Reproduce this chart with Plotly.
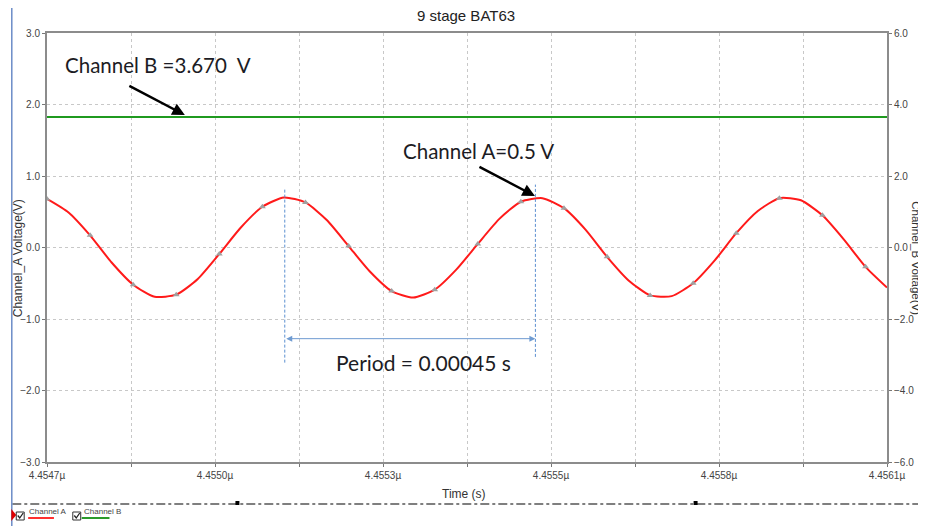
import plotly.graph_objects as go

# ---- data ----
time_us = [4.4547000, 4.4547359, 4.4547718, 4.4548077, 4.4548436, 4.4548795, 4.4549154, 4.4549513,
           4.4549872, 4.4550231, 4.4550590, 4.4550949, 4.4551308, 4.4551667, 4.4552026, 4.4552385,
           4.4552744, 4.4553103, 4.4553462, 4.4553821, 4.4554180, 4.4554539, 4.4554898, 4.4555257,
           4.4555616, 4.4555975, 4.4556334, 4.4556693, 4.4557052, 4.4557411, 4.4557770, 4.4558129,
           4.4558488, 4.4558847, 4.4559206, 4.4559565, 4.4559924, 4.4560283, 4.4560642, 4.4561000]
channel_a = [0.68, 0.49, 0.17, -0.21, -0.52, -0.69, -0.66, -0.44,
             -0.09, 0.28, 0.57, 0.70, 0.63, 0.38, 0.02, -0.34,
             -0.61, -0.70, -0.59, -0.31, 0.05, 0.40, 0.64, 0.69,
             0.55, 0.25, -0.13, -0.46, -0.67, -0.68, -0.50, -0.18,
             0.20, 0.51, 0.69, 0.66, 0.45, 0.11, -0.27, -0.56]
channel_b_time = [4.4547, 4.4561]
channel_b = [3.65, 3.65]

x_tickvals = [4.4547, 4.45484, 4.45498, 4.45512, 4.45526, 4.4554, 4.45554, 4.45568, 4.45582, 4.45596, 4.4561]
x_ticktext = ["4.4547µ", "", "4.4550µ", "", "4.4553µ", "", "4.4555µ", "", "4.4558µ", "", "4.4561µ"]
y1_ticks = [-3, -2, -1, 0, 1, 2, 3]
y2_ticks = [-6, -4, -2, 0, 2, 4, 6]

# annotation anchors (data coords)
period_left = 4.4550963
period_right = 4.4555140

# ---- layout geometry (page pixels; page body has an 8px margin) ----
OFF = 8
PW, PH = 926, 526
L, R, T, B = 45, 892, 33, 462
def px(x):
    return (x - L) / (R - L)
def py(y):
    return (B - y) / (B - T)

fig = go.Figure()
fig.add_trace(go.Scatter(x=time_us, y=channel_a, mode="lines", name="Channel A",
                         line=dict(color="#ff1a1a", width=2, shape="spline", smoothing=0.6)))
fig.add_trace(go.Scatter(x=time_us[::2], y=channel_a[::2], mode="markers", showlegend=False,
                         marker=dict(symbol="triangle-up", size=6, color="#a0a0a0")))
fig.add_trace(go.Scatter(x=channel_b_time, y=channel_b, mode="lines", name="Channel B", yaxis="y2",
                         line=dict(color="#1f9a1f", width=2)))

tickfont = dict(family="Liberation Sans, Arial", size=10, color="#444")
fig.update_layout(
    width=PW - OFF, height=PH - OFF,
    margin=dict(l=L - OFF, r=PW - R, t=T - OFF, b=PH - B),
    paper_bgcolor="white", plot_bgcolor="white",
    showlegend=False,
    xaxis=dict(range=[4.4547, 4.4561], tickvals=x_tickvals, ticktext=x_ticktext,
               showgrid=True, gridcolor="#c8c8c8", griddash="dot", gridwidth=1,
               showline=True, linecolor="#8c8c8c", linewidth=2, mirror=True,
               ticks="outside", ticklen=3, tickcolor="#777", tickfont=tickfont, zeroline=False),
    yaxis=dict(range=[-3, 3], tickvals=y1_ticks, tickformat=".1f",
               showgrid=True, gridcolor="#c8c8c8", griddash="dot", gridwidth=1,
               showline=True, linecolor="#8c8c8c", linewidth=2,
               ticks="outside", ticklen=3, tickcolor="#777", tickfont=tickfont, zeroline=False),
    yaxis2=dict(range=[-6, 6], tickvals=y2_ticks, tickformat=".1f", overlaying="y", side="right",
                showgrid=False, showline=True, linecolor="#8c8c8c", linewidth=2,
                ticks="outside", ticklen=3, tickcolor="#777", tickfont=tickfont, zeroline=False),
)

ann = []
def label(text, x, y, font, angle=0, xanchor="center"):
    ann.append(dict(text=text, x=px(x), y=py(y), xref="paper", yref="paper", showarrow=False,
                    xanchor=xanchor, yanchor="middle", textangle=angle, font=font))

txt = dict(family="Liberation Sans, Arial", color="#333")
label("9 stage BAT63", 467, 16, dict(size=15, family="Liberation Sans, Arial", color="#222"))
label("Time (s)", 465, 494, dict(size=12, **txt))
label("Channel_A Voltage(V)", 16, 258, dict(size=12, **txt), angle=-90)
label("Channel_B Voltage(V)", 921, 258, dict(size=11.5, **txt), angle=90)

callout = dict(family="Lato, Open Sans, sans-serif", size=20.5, color="#1c1c24")
label("Channel B =3.670  V", 157, 65, callout)
label("Channel A=0.5 V", 480, 151, callout)
label("Period = 0.00045 s", 425, 362, dict(family="Lato, Open Sans, sans-serif", size=21, color="#1c1c24"))

for hx, hy in ((184, 115), (537, 196)):
    ann.append(dict(text="", x=px(hx), y=py(hy), ax=-57, ay=-30, xref="paper", yref="paper",
                    axref="pixel", ayref="pixel", showarrow=True, arrowhead=2, arrowsize=1,
                    arrowwidth=2.5, arrowcolor="black"))
ann.append(dict(text="", x=period_right, y=-1.275, ax=period_left, ay=-1.275, xref="x", yref="y",
                axref="x", ayref="y", showarrow=True, arrowhead=2, startarrowhead=2,
                arrowside="end+start", arrowsize=1.2, arrowwidth=1, arrowcolor="#6f9bd1"))

small = dict(family="Liberation Sans, Arial", size=8, color="#444")
label("Channel A", 25, 511, small, xanchor="left")
label("Channel B", 80, 511, small, xanchor="left")
fig.update_layout(annotations=ann)

shapes = []
# period dashed lines
shapes.append(dict(type="line", xref="x", yref="y", x0=period_left, x1=period_left, y0=-1.61, y1=0.81,
                   line=dict(color="#5b8fd0", width=1, dash="3px,2px")))
shapes.append(dict(type="line", xref="x", yref="y", x0=period_right, x1=period_right, y0=-1.53, y1=0.88,
                   line=dict(color="#5b8fd0", width=1, dash="3px,2px")))
# bottom dash-dot rule
shapes.append(dict(type="line", xref="paper", yref="paper", x0=px(10), x1=px(926), y0=py(504), y1=py(504),
                   line=dict(color="#555", width=1.5, dash="dashdot")))
for sx in (237, 699):
    shapes.append(dict(type="rect", xref="paper", yref="paper", x0=px(sx - 2), x1=px(sx + 2),
                       y0=py(505), y1=py(501), fillcolor="black", line=dict(width=0)))
# left blue border
shapes.append(dict(type="line", xref="paper", yref="paper", x0=px(9.5), x1=px(9.5), y0=py(8), y1=py(526),
                   line=dict(color="#6b8cc7", width=1.5)))
# red pointer at bottom-left
shapes.append(dict(type="path", xref="paper", yref="paper",
                   path=f"M {px(9)},{py(509)} L {px(14)},{py(515)} L {px(9)},{py(521)} Z",
                   fillcolor="#e00000", line=dict(width=0)))
# legend checkboxes and line samples
for bx, col, lx0, lx1 in ((14, "#ff3030", 26, 52), (71, "#2a9a2a", 80, 108)):
    shapes.append(dict(type="rect", xref="paper", yref="paper", x0=px(bx), x1=px(bx + 8),
                       y0=py(520), y1=py(512), line=dict(color="#333", width=1), fillcolor="white"))
    shapes.append(dict(type="path", xref="paper", yref="paper",
                       path=f"M {px(bx + 1.5)},{py(515.5)} L {px(bx + 3.5)},{py(518)} L {px(bx + 7)},{py(513)}",
                       line=dict(color="#222", width=1.3)))
    shapes.append(dict(type="line", xref="paper", yref="paper", x0=px(lx0), x1=px(lx1),
                       y0=py(518), y1=py(518), line=dict(color=col, width=2)))
fig.update_layout(shapes=shapes)

fig.write_html("out.html")
